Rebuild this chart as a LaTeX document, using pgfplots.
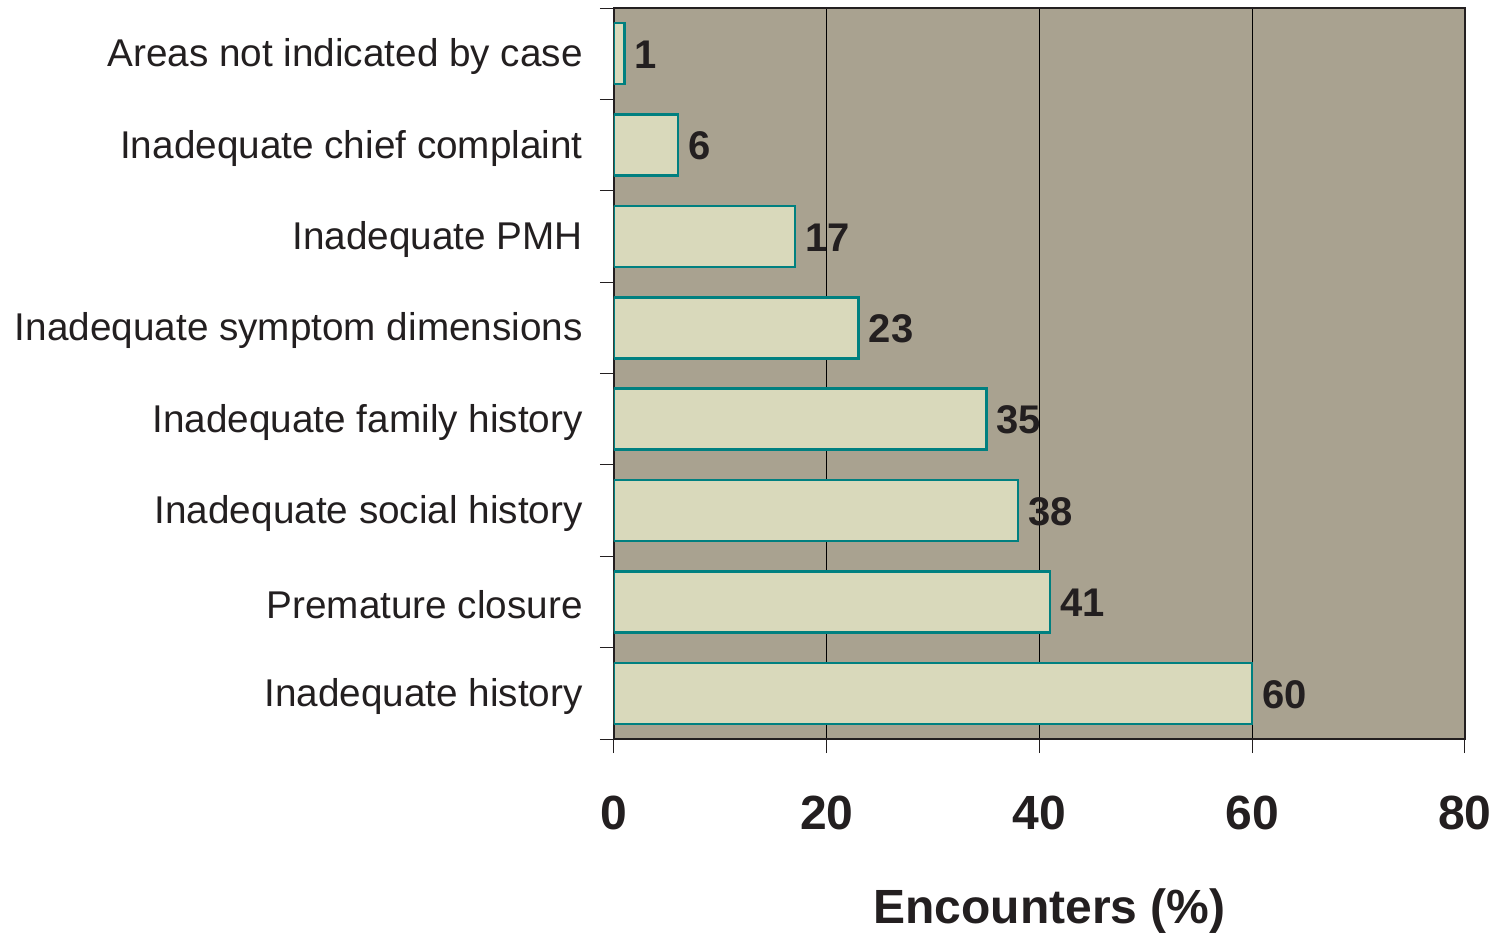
\documentclass[border=0pt]{standalone}
\usepackage{fontspec}
\setmainfont{Liberation Sans}
\usepackage{pgfplots}
\pgfplotsset{compat=1.18}
\definecolor{bg}{RGB}{169,162,144}
\definecolor{barfill}{RGB}{217,217,187}
\definecolor{barteal}{RGB}{0,128,128}
\definecolor{txt}{RGB}{35,31,32}
\begin{document}
\begin{tikzpicture}
\begin{axis}[
  at={(0,0)}, anchor=south west,
  scale only axis, width=851pt, height=731pt,
  xbar, bar width=61pt,
  xmin=0, xmax=80, ymin=-0.5, ymax=7.5,
  xtick={0,20,40,60,80},
  xtick pos=bottom, ytick pos=left,
  /pgf/number format/assume math mode=true,
  xmajorgrids, grid style={black, line width=1pt},
  axis background/.style={fill=bg},
  axis line style={txt, line width=1.6pt},
  tick align=outside, major tick length=14pt,
  tick style={txt, line width=1pt},
  ytick={-0.5,0.5,...,7.5}, yticklabels={},
  extra y ticks={0,1,2,3,4,5,6,7},
  extra y tick labels={Inadequate history, Premature closure, Inadequate social history, Inadequate family history, Inadequate symptom dimensions, Inadequate PMH, Inadequate chief complaint, Areas not indicated by case},
  extra y tick style={major tick length=0pt, yticklabel style={font=\fontsize{38.7}{46}\selectfont, text=txt, anchor=east, inner sep=0pt, xshift=-31pt, yshift=-3pt}},
  xticklabel style={font=\bfseries\fontsize{48}{56}\selectfont, text=txt, anchor=north, inner sep=0pt, yshift=-43pt},
  xlabel={Encounters (\%)},
  xlabel style={font=\bfseries\fontsize{48}{56}\selectfont, text=txt, anchor=north, inner sep=0pt, yshift=-58pt, xshift=10pt},
  point meta=x,
  nodes near coords,
  nodes near coords style={font=\bfseries\fontsize{40}{48}\selectfont, text=txt, anchor=west, inner sep=0pt, xshift=9pt, yshift=-1pt},
]
\addplot[fill=barfill, draw=barteal, line width=2.5pt] coordinates {
  (60,0) (41,1) (38,2) (35,3) (23,4) (17,5) (6,6) (1,7)
};
\end{axis}
\pgfresetboundingbox
\path (-614pt,-193pt) rectangle (890pt,739pt);
\end{tikzpicture}
\end{document}
